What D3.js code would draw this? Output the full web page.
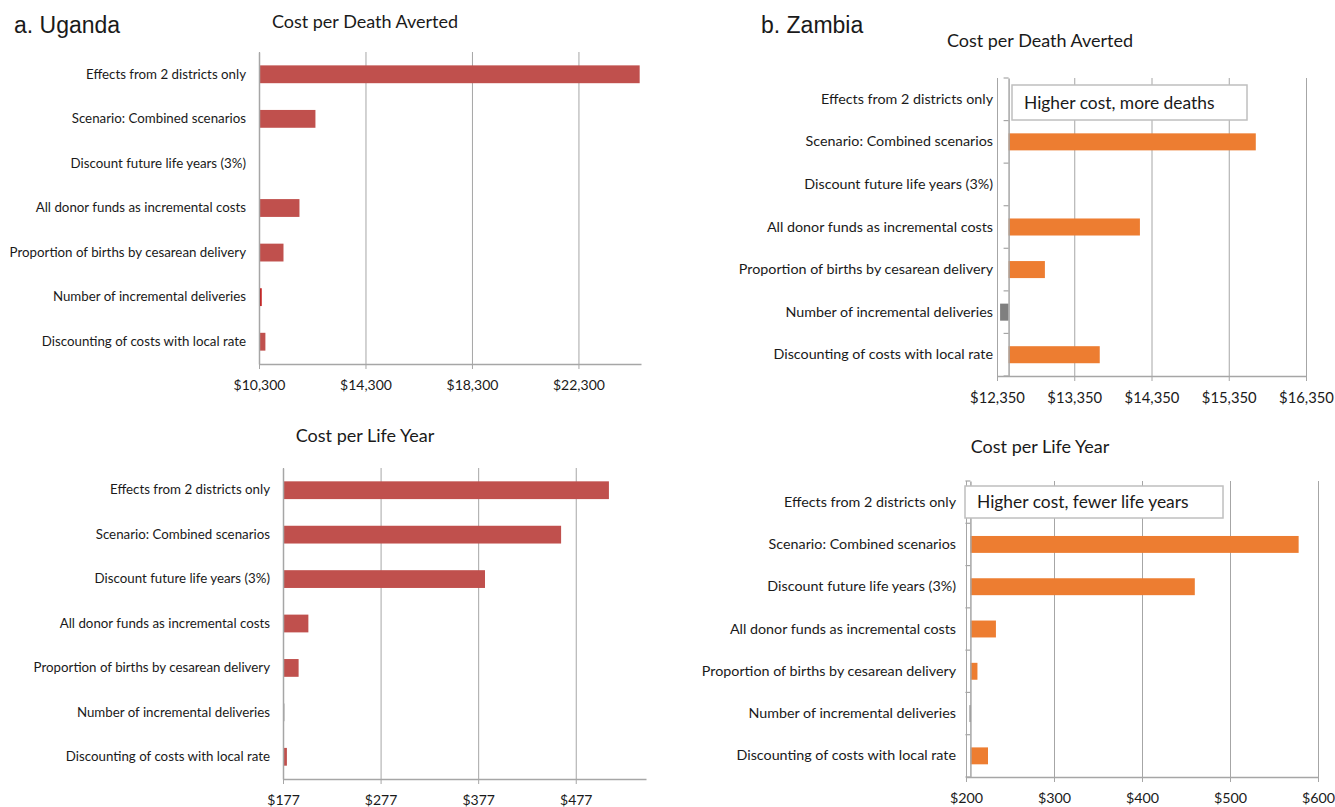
<!DOCTYPE html>
<html>
<head>
<meta charset="utf-8">
<script src="https://cdn.jsdelivr.net/npm/d3@7"></script>
<style>
  body { margin: 0; background: #fff; }
  text { font-family: Lato, "Open Sans", sans-serif; fill: #1a1a1a; }
</style>
</head>
<body>
<svg id="chart" width="1335" height="807"></svg>
<script>
// Categories (same order in every panel, top to bottom)
var categories = [
  "Effects from 2 districts only",
  "Scenario: Combined scenarios",
  "Discount future life years (3%)",
  "All donor funds as incremental costs",
  "Proportion of births by cesarean delivery",
  "Number of incremental deliveries",
  "Discounting of costs with local rate"
];

// Uganda, cost per death averted (bars start at 10,300)
var ugandaDeath = [24600, 12420, null, 11820, 11220, 10400, 10540];
var ugandaDeathBase = 10300;
var ugandaDeathTicks = [10300, 14300, 18300, 22300];
var ugandaDeathMax = 24650;

// Uganda, cost per life year (bars start at 177)
var ugandaLife = [511, 462, 384, 203, 193, 178, 181];
var ugandaLifeBase = 177;
var ugandaLifeTicks = [177, 277, 377, 477];
var ugandaLifeMax = 549;

// Zambia, cost per death averted (bars start at 12,500)
var zambiaDeath = [null, 15700, null, 14200, 12970, 12390, 13680];
var zambiaDeathBase = 12500;
var zambiaDeathTicks = [12350, 13350, 14350, 15350, 16350];

// Zambia, cost per life year (bars start at 205)
var zambiaLife = [null, 578, 460, 234, 213, 204, 225];
var zambiaLifeBase = 205;
var zambiaLifeTicks = [200, 300, 400, 500, 600];

var svg = d3.select('#chart');
var fmt = d3.format(',');

// Country headers
svg.append('text').attr('x', 14).attr('y', 33)
  .style('font-family', '"Liberation Sans", Arial, sans-serif')
  .style('font-size', '23px').text('a. Uganda');
svg.append('text').attr('x', 761).attr('y', 33)
  .style('font-family', '"Liberation Sans", Arial, sans-serif')
  .style('font-size', '23px').text('b. Zambia');

function draw_panel(opt) {
  var x = d3.scaleLinear().domain(opt.domain).range([opt.left, opt.right]);
  var y = d3.scaleBand().domain(categories).range([opt.top, opt.bottom])
    .paddingInner(0.6).paddingOuter(0.3);
  var g = svg.append('g');

  // Title
  g.append('text')
    .attr('x', opt.titleX).attr('y', opt.titleY)
    .attr('text-anchor', 'middle')
    .style('font-size', '18px')
    .text(opt.title);

  // Vertical gridlines
  g.append('g')
    .attr('transform', 'translate(0,' + opt.bottom + ')')
    .call(d3.axisBottom(x).tickValues(opt.ticks).tickSize(-(opt.bottom - opt.top)).tickFormat(''))
    .call(function(a) {
      a.select('.domain').remove();
      a.selectAll('line').attr('stroke', '#a6a6a6');
    });

  // Bottom value axis with small ticks
  g.append('g')
    .attr('transform', 'translate(0,' + opt.bottom + ')')
    .call(d3.axisBottom(x).tickValues(opt.ticks).tickSize(5).tickSizeOuter(0)
      .tickPadding(11).tickFormat(function(d) { return '$' + fmt(d); }))
    .call(function(a) {
      a.select('.domain').attr('stroke', '#a6a6a6').attr('stroke-width', 1.5);
      a.selectAll('line').attr('stroke', '#a6a6a6');
      a.selectAll('text').style('font-size', opt.tickFont).attr('fill', '#1a1a1a')
        .style('font-family', 'Lato, sans-serif');
    });

  // Bars
  g.selectAll('rect.bar')
    .data(opt.values.map(function(v, i) { return {c: categories[i], v: v, i: i}; })
      .filter(function(d) { return d.v !== null; }))
    .enter().append('rect')
    .attr('class', 'bar')
    .attr('x', function(d) { return x(Math.min(d.v, opt.base)); })
    .attr('width', function(d) { return Math.max(1.5, Math.abs(x(d.v) - x(opt.base))); })
    .attr('y', function(d) { return y(d.c); })
    .attr('height', y.bandwidth())
    .attr('fill', function(d) {
      if (opt.special && opt.special[d.i]) return opt.special[d.i];
      return d.v < opt.base ? '#7f7f7f' : opt.color;
    });

  // Category axis at the base value
  var cat = g.append('g')
    .attr('transform', 'translate(' + x(opt.base) + ',0)')
    .call(d3.axisLeft(y).tickSize(0).tickPadding(x(opt.base) - opt.labelRight));
  cat.select('.domain').attr('stroke', '#a6a6a6').attr('stroke-width', 1.5);
  cat.selectAll('text').style('font-size', opt.labelFont).attr('fill', '#1a1a1a')
    .style('font-family', 'Lato, sans-serif');

  // Little ticks between categories (Zambia panels)
  if (opt.catTicks) {
    var step = y.step();
    var bounds = d3.range(categories.length + 1).map(function(i) { return opt.top + i * step; });
    g.selectAll('line.ct').data(bounds).enter().append('line')
      .attr('x1', x(opt.base) - 5).attr('x2', x(opt.base))
      .attr('y1', function(d) { return d; }).attr('y2', function(d) { return d; })
      .attr('stroke', '#a6a6a6').attr('stroke-width', 1.2);
  }

  // Annotation box
  if (opt.note) {
    var box = g.append('g');
    box.append('rect')
      .attr('x', opt.note.x).attr('y', opt.note.y)
      .attr('width', opt.note.w).attr('height', opt.note.h)
      .attr('fill', '#fff').attr('stroke', '#bfbfbf').attr('stroke-width', 1.5);
    box.append('text')
      .attr('x', opt.note.x + 12).attr('y', opt.note.y + opt.note.h / 2 + 6)
      .style('font-size', '17.4px').text(opt.note.text);
  }
}

draw_panel({
  title: 'Cost per Death Averted', titleX: 365, titleY: 28,
  values: ugandaDeath, base: ugandaDeathBase, ticks: ugandaDeathTicks,
  domain: [ugandaDeathBase, ugandaDeathMax],
  left: 259, right: 641, top: 52, bottom: 364, labelRight: 246,
  labelFont: '13.3px', tickFont: '14px',
  color: '#c0504d', special: {5: '#c00000'}
});

draw_panel({
  title: 'Cost per Life Year', titleX: 365, titleY: 442,
  values: ugandaLife, base: ugandaLifeBase, ticks: ugandaLifeTicks,
  domain: [ugandaLifeBase, ugandaLifeMax],
  left: 283, right: 646, top: 468, bottom: 779, labelRight: 270,
  labelFont: '13.3px', tickFont: '14px',
  color: '#c0504d', special: {5: '#a6a6a6'}
});

draw_panel({
  title: 'Cost per Death Averted', titleX: 1040, titleY: 47,
  values: zambiaDeath, base: zambiaDeathBase, ticks: zambiaDeathTicks,
  domain: [zambiaDeathTicks[0], zambiaDeathTicks[zambiaDeathTicks.length - 1]],
  left: 997, right: 1306, top: 78, bottom: 376, labelRight: 993,
  labelFont: '14.3px', tickFont: '14.8px',
  color: '#ed7d31', catTicks: true,
  note: {x: 1012, y: 85, w: 235, h: 35, text: 'Higher cost, more deaths'}
});

draw_panel({
  title: 'Cost per Life Year', titleX: 1040, titleY: 453,
  values: zambiaLife, base: zambiaLifeBase, ticks: zambiaLifeTicks,
  domain: [zambiaLifeTicks[0], zambiaLifeTicks[zambiaLifeTicks.length - 1]],
  left: 966, right: 1318, top: 481, bottom: 777, labelRight: 956,
  labelFont: '14.3px', tickFont: '14.3px',
  color: '#ed7d31', catTicks: true,
  note: {x: 965, y: 486, w: 258, h: 32, text: 'Higher cost, fewer life years'}
});
</script>
</body>
</html>
